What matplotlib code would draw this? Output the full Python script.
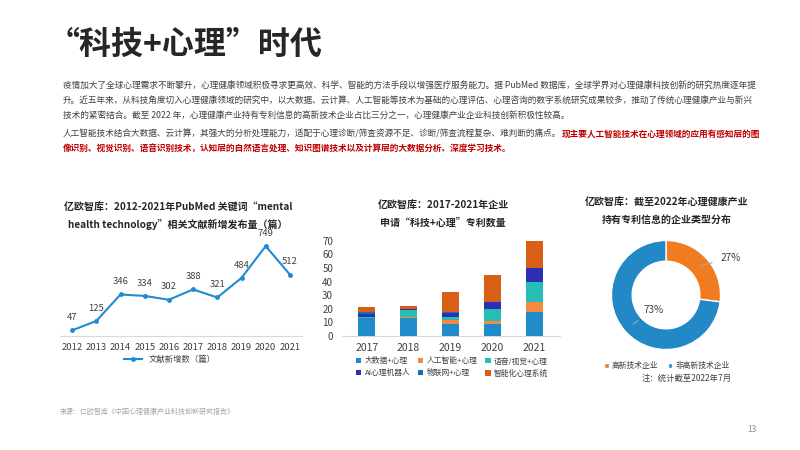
import numpy as np
import matplotlib.pyplot as plt

plt.rcParams['font.family'] = ['Noto Sans CJK SC', 'DejaVu Sans']

# data
years_line = [2012, 2013, 2014, 2015, 2016, 2017, 2018, 2019, 2020, 2021]
papers = [47, 125, 346, 334, 302, 388, 321, 484, 749, 512]

years_bar = ['2017', '2018', '2019', '2020', '2021']
bar_series = ['大数据+心理', '人工智能+心理', '语音/视觉+心理', 'AI心理机器人', '物联网+心理', '智能化心理系统']
bar_values = [
    [13, 13, 9, 9, 18],     # 大数据+心理
    [0, 1, 3, 2, 7],        # 人工智能+心理
    [1, 5, 2, 9, 15],       # 语音/视觉+心理
    [2, 1, 3, 5, 10],       # AI心理机器人
    [2, 0, 1, 0, 0],        # 物联网+心理
    [3, 2, 14, 20, 20],     # 智能化心理系统
]
bar_colors = ['#1f8bc8', '#f58a42', '#26bdb4', '#2a2fb6', '#1c6fae', '#d95f17']

pie_labels = ['高新技术企业', '非高新技术企业']
pie_values = [27, 73]
pie_colors = ['#f07c1f', '#2388c6']

W, H = 800, 450
fig = plt.figure(figsize=(8, 4.5), dpi=100)


def box(l, t, w, h):
    return [l / W, 1 - (t + h) / H, w / W, h / H]


def ftext(x, y, s, **kw):
    return fig.text(x / W, 1 - y / H, s, **kw)


# header
ftext(48, 45, '“科技+心理”时代', fontsize=23, fontweight='bold', color='#262626', va='center')

grey = '#404040'
lines = [
    '疫情加大了全球心理需求不断攀升，心理健康领域积极寻求更高效、科学、智能的方法手段以增强医疗服务能力。据 PubMed 数据库，全球学界对心理健康科技创新的研究热度逐年提',
    '升。近五年来，从科技角度切入心理健康领域的研究中，以大数据、云计算、人工智能等技术为基础的心理评估、心理咨询的数字系统研究成果较多，推动了传统心理健康产业与新兴',
    '技术的紧密结合。截至 2022 年，心理健康产业持有专利信息的高新技术企业占比三分之一，心理健康产业企业科技创新积极性较高。',
]
for i, s in enumerate(lines):
    ftext(63, 86 + i * 15, s, fontsize=6.25, color=grey, va='center')

p2a = '人工智能技术结合大数据、云计算，其强大的分析处理能力，适配于心理诊断/筛查资源不足、诊断/筛查流程复杂、难判断的痛点。'
p2b = '现主要人工智能技术在心理领域的应用有感知层的图'
p2c = '像识别、视觉识别、语音识别技术，认知层的自然语言处理、知识图谱技术以及计算层的大数据分析、深度学习技术。'
t = ftext(63, 134, p2a, fontsize=6.25, color=grey, va='center')
fig.canvas.draw()
bb = t.get_window_extent()
fig.text(bb.x1 / W, 1 - 134 / H, p2b, fontsize=6.25, color='#c00000', fontweight='bold', va='center')
ftext(63, 149, p2c, fontsize=6.25, color='#c00000', fontweight='bold', va='center')

# line chart
ftext(178, 208, '亿欧智库：2012-2021年PubMed 关键词“mental', fontsize=7.2, fontweight='bold', color='#262626', ha='center', va='center')
ftext(178, 224, 'health technology”相关文献新增发布量（篇）', fontsize=7.2, fontweight='bold', color='#262626', ha='center', va='center')

ax1 = fig.add_axes(box(60, 240, 242, 96))
ax1.plot(years_line, papers, color='#1f8bd0', lw=1.5, marker='o', ms=2.5, label='文献新增数（篇）')
for x, y in zip(years_line, papers):
    ax1.annotate(str(y), (x, y), xytext=(0, 6), textcoords='offset points', ha='center', va='bottom',
                 fontsize=6.8, color=grey)
ax1.set_xlim(2011.5, 2021.5)
ax1.set_ylim(0, 800)
ax1.set_xticks(years_line)
ax1.set_yticks([])
for s in ['top', 'right', 'left']:
    ax1.spines[s].set_visible(False)
ax1.spines['bottom'].set_color('#d9d9d9')
ax1.tick_params(axis='x', length=0, labelsize=6.8, labelcolor=grey, pad=5)
ax1.legend(loc='center', bbox_to_anchor=(170 / W, 1 - 359 / H), bbox_transform=fig.transFigure,
           frameon=False, fontsize=6, labelcolor=grey, handlelength=2.2, borderpad=0)

# stacked bar chart
ftext(443, 206, '亿欧智库：2017-2021年企业', fontsize=7.2, fontweight='bold', color='#262626', ha='center', va='center')
ftext(443, 223, '申请“科技+心理”专利数量', fontsize=7.2, fontweight='bold', color='#262626', ha='center', va='center')

ax2 = fig.add_axes(box(341.5, 234, 218, 102))
xpos = np.arange(len(years_bar))
bottom = np.zeros(len(years_bar))
handles = []
for name, vals, c in zip(bar_series, bar_values, bar_colors):
    h = ax2.bar(xpos, vals, 0.4, bottom=bottom, color=c, label=name)
    handles.append(h)
    bottom += np.array(vals)
ax2.set_xlim(-0.6, 4.6)
ax2.set_ylim(0, 75)
ax2.set_yticks(range(0, 71, 10))
ax2.set_xticks(xpos)
ax2.set_xticklabels(years_bar)
for s in ['top', 'right', 'left']:
    ax2.spines[s].set_visible(False)
ax2.spines['bottom'].set_color('#d9d9d9')
ax2.tick_params(axis='y', length=0, labelsize=7, labelcolor=grey, pad=6)
ax2.tick_params(axis='x', length=0, labelsize=7.5, labelcolor=grey, pad=5)
order = [0, 3, 1, 4, 2, 5]
ax2.legend([handles[i] for i in order], [bar_series[i] for i in order], ncol=3,
           loc='center', bbox_to_anchor=(452 / W, 1 - 367.5 / H), bbox_transform=fig.transFigure,
           frameon=False, fontsize=5.6, labelcolor=grey, handlelength=0.7, handleheight=0.7,
           handletextpad=0.4, columnspacing=1.0, labelspacing=0.5, borderpad=0)

# donut chart
ftext(667, 203, '亿欧智库：截至2022年心理健康产业', fontsize=7.2, fontweight='bold', color='#262626', ha='center', va='center')
ftext(667, 220, '持有专利信息的企业类型分布', fontsize=7.2, fontweight='bold', color='#262626', ha='center', va='center')

ax3 = fig.add_axes(box(606, 235, 120, 120))
wedges, _ = ax3.pie(pie_values, colors=pie_colors, startangle=90, counterclock=False, radius=1,
                    wedgeprops=dict(width=0.38, edgecolor='white', linewidth=1))
ax3.set_xlim(-1.1, 1.1)
ax3.set_ylim(-1.1, 1.1)
ax3.set_aspect('equal')
label_pos = [(1.18, 0.68), (-0.22, -0.27)]
for w, v, (tx, ty) in zip(wedges, pie_values, label_pos):
    ang = np.deg2rad((w.theta1 + w.theta2) / 2)
    px, py = 0.8 * np.cos(ang), 0.8 * np.sin(ang)
    ax3.annotate(f'{v}%', (px, py), xytext=(tx, ty), ha='center', va='center', fontsize=7.2, color=grey,
                 arrowprops=dict(arrowstyle='-', color='#a6a6a6', lw=0.8, shrinkA=4, shrinkB=0))
ax3.legend(wedges, pie_labels, ncol=2, loc='center', bbox_to_anchor=(667 / W, 1 - 366 / H),
           bbox_transform=fig.transFigure, frameon=False, fontsize=5.6, labelcolor=grey,
           handlelength=0.6, handleheight=0.6, handletextpad=0.4, columnspacing=1.2, borderpad=0)
ftext(687, 378, '注：统计截至2022年7月', fontsize=6, color=grey, ha='center', va='center')

# footer
ftext(60, 412, '来源：亿欧智库《中国心理健康产业科技创新研究报告》', fontsize=5, color='#a6a6a6', va='center')
ftext(747, 430, '13', fontsize=6, color='#8c8c8c', va='center')

fig.savefig('out.png', dpi=100)
